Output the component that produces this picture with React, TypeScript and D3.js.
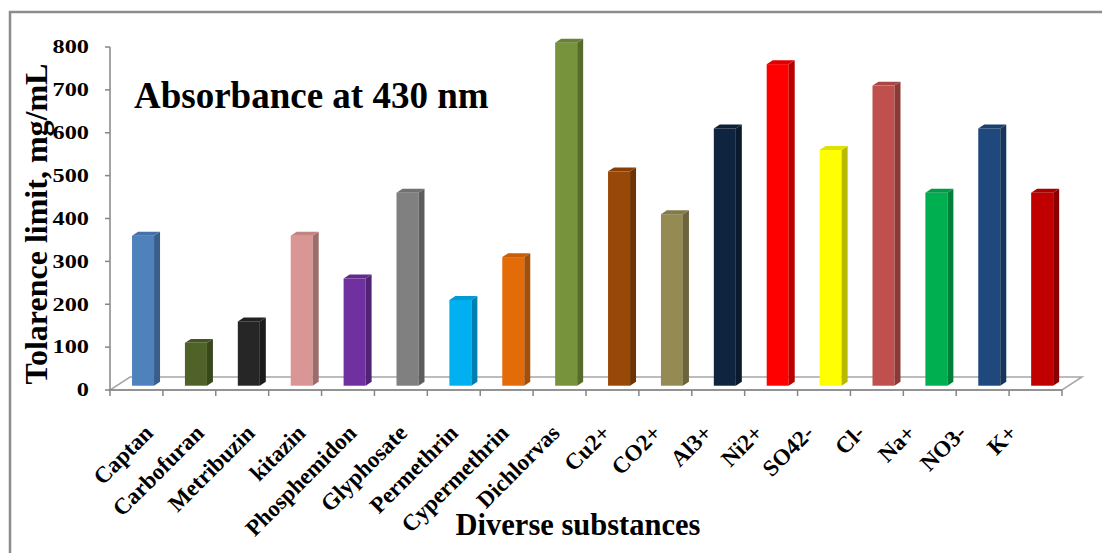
import React from "react";
import * as d3 from "d3";

const categories = ["Captan","Carbofuran","Metribuzin","kitazin","Phosphemidon","Glyphosate","Permethrin","Cypermethrin","Dichlorvas","Cu2+","CO2+","Al3+","Ni2+","SO42-","Cl-","Na+","NO3-","K+"];
const values = [350,100,150,350,250,450,200,300,800,500,400,600,750,550,700,450,600,450];
const barColors = ["#4f81bd","#4f6228","#262626","#d99694","#7030a0","#808080","#00b0f0","#e36c09","#77933c","#984807","#948a54","#0f243e","#ff0000","#ffff00","#c0504d","#00b050","#1f497d","#c00000"];
const yTicks = [0,100,200,300,400,500,600,700,800];
const title = "Absorbance at 430 nm";
const yTitle = "Tolarence limit, mg/mL";
const xTitle = "Diverse substances";

const W = 1102, H = 553;
const X0 = 110, X1 = 1062, Y0 = 390, YTOP = 47;
const DX = 20, DY = -13;
const F1 = 0.33, F2 = 0.63;
const axisColor = "#868686";
const font = "'Liberation Serif', 'Times New Roman', serif";

export default function App() {
  const x = d3.scaleBand<string>().domain(categories).range([X0, X1]).paddingInner(0.584).paddingOuter(0.292);
  const step = x.step();
  const y = d3.scaleLinear().domain([0, 800]).range([Y0, YTOP]);
  const labelX = d3.scaleLinear().domain([0, categories.length - 1]).range([143, 1007]);
  const bw = x.bandwidth();
  const fdx = DX * F1, fdy = DY * F1;
  const sdx = DX * (F2 - F1), sdy = DY * (F2 - F1);

  return (
    <svg width={W} height={H} style={{ display: "block", position: "absolute", left: 0, top: 0 }} fontFamily={font}>
      <rect x={0} y={0} width={W} height={H} fill="#fff" />
      <rect x={10} y={12} width={W + 20} height={H + 20} fill="none" stroke="#8c8c8c" strokeWidth={2.5} />
      {/* floor */}
      <polygon points={`${X0},${Y0} ${X1},${Y0} ${X1 + DX},${Y0 + DY} ${X0 + DX},${Y0 + DY}`} fill="#fff" stroke="#a6a6a6" strokeWidth={1.5} />
      {/* y axis */}
      <line x1={X0} x2={X0} y1={YTOP} y2={Y0} stroke={axisColor} strokeWidth={1.5} />
      {yTicks.map(t => (
        <g key={t}>
          <line x1={X0 - 5} x2={X0} y1={y(t)} y2={y(t)} stroke={axisColor} strokeWidth={1.5} />
          <text transform={`translate(${X0 - 21},${y(t)}) scale(1.35,1)`} dy="0.35em" textAnchor="end" fontSize={18} fontWeight="bold">{t}</text>
        </g>
      ))}
      {/* x axis ticks */}
      <line x1={X0} x2={X1} y1={Y0} y2={Y0} stroke={axisColor} strokeWidth={1.5} />
      {d3.range(categories.length + 1).map(i => (
        <line key={i} x1={X0 + i * step} x2={X0 + i * step} y1={Y0} y2={Y0 + 6} stroke={axisColor} strokeWidth={1.5} />
      ))}
      {/* bars */}
      {categories.map((c, i) => {
        const col = d3.color(barColors[i])!;
        const side = d3.rgb(barColors[i]).darker(0.9).toString();
        const top = d3.rgb(barColors[i]).darker(0.35).toString();
        const bx = x(c)! + fdx;
        const byTop = y(values[i]) + fdy;
        const byBot = y(0) + fdy;
        return (
          <g key={c}>
            <rect x={bx} y={byTop} width={bw} height={byBot - byTop} fill={col.toString()} />
            <polygon points={`${bx + bw},${byTop} ${bx + bw + sdx},${byTop + sdy} ${bx + bw + sdx},${byBot + sdy} ${bx + bw},${byBot}`} fill={side} />
            <polygon points={`${bx},${byTop} ${bx + sdx},${byTop + sdy} ${bx + bw + sdx},${byTop + sdy} ${bx + bw},${byTop}`} fill={top} />
          </g>
        );
      })}
      {/* x labels */}
      {categories.map((c, i) => (
        <text key={c} transform={`translate(${labelX(i)},${423}) rotate(-45)`} textAnchor="end" dy="0.7em" fontSize={23} fontWeight="bold">{c}</text>
      ))}
      <text x={134} y={108} fontSize={37} fontWeight="bold">{title}</text>
      <text transform={`translate(47,${224}) rotate(-90)`} textAnchor="middle" fontSize={32} fontWeight="bold">{yTitle}</text>
      <text x={578} y={535} textAnchor="middle" fontSize={30.5} fontWeight="bold">{xTitle}</text>
    </svg>
  );
}
